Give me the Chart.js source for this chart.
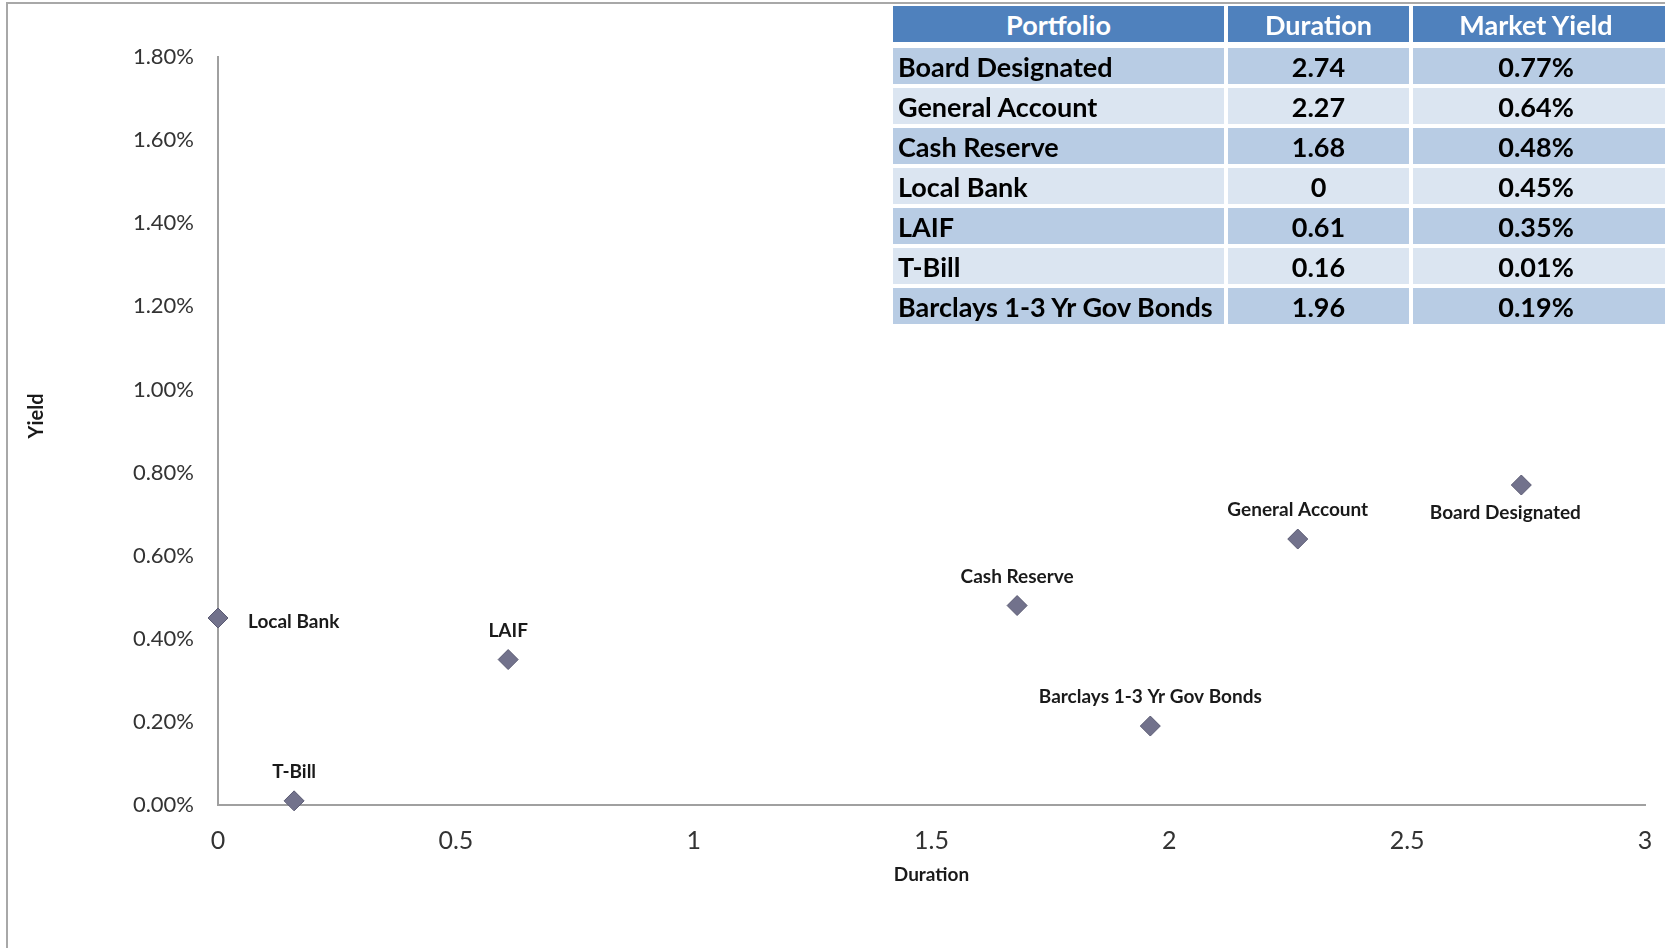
<!DOCTYPE html>
<html>
<head>
<meta charset="utf-8">
<script src="https://cdn.jsdelivr.net/npm/chart.js@4.4.1/dist/chart.umd.min.js"></script>
<style>
  html, body { margin: 0; padding: 0; background: #fff; }
  #wrap { position: relative; width: 1665px; height: 948px; overflow: hidden; }
  #frame { position: absolute; left: 6px; top: 2px; right: -10px; bottom: -10px;
           border-left: 2px solid #a8a8a8; border-top: 2px solid #a8a8a8; }
  #theChart { position: absolute; left: 0; top: 0; }
  #tbl { position: absolute; left: 893px; top: 6px; display: grid;
         grid-template-columns: 331px 181px 256px; column-gap: 4px;
         grid-template-rows: 38px repeat(7, 36px); row-gap: 4px;
         font-family: Lato, "Liberation Sans", sans-serif; font-weight: bold; font-size: 27px; }
  #tbl div { display: flex; align-items: center; justify-content: center; white-space: nowrap; overflow: hidden; }
  #tbl .hd { background: #4f81bd; color: #fff; height: 36px; align-self: start; }
  #tbl .dark { background: #b8cce4; color: #000; }
  #tbl .light { background: #dbe5f1; color: #000; }
  #tbl .first { justify-content: flex-start; padding-left: 5px; }
  #tbl .hd.first { justify-content: center; padding-left: 0; }
  #tbl .last { padding-right: 10px; }
</style>
</head>
<body>
<div id="wrap">
  <div id="frame"></div>
  <canvas id="theChart" width="1665" height="948"></canvas>
  <div id="tbl"></div>
</div>
<script>
// portfolio data (duration in years, yield in percent)
const portfolios = ["Board Designated", "General Account", "Cash Reserve", "Local Bank", "LAIF", "T-Bill", "Barclays 1-3 Yr Gov Bonds"];
const durations = [2.74, 2.27, 1.68, 0, 0.61, 0.16, 1.96];
const yields = [0.77, 0.64, 0.48, 0.45, 0.35, 0.01, 0.19];
const tableHeaders = ["Portfolio", "Duration", "Market Yield"];

// where each point label sits relative to its marker
const labelPlacement = {
  "Local Bank": "right",
  "Board Designated": "below",
};

// build the table from the same arrays
const tbl = document.getElementById("tbl");
function cell(text, cls) {
  const d = document.createElement("div");
  d.className = cls;
  d.textContent = text;
  tbl.appendChild(d);
}
tableHeaders.forEach((h, i) => cell(h, "hd" + (i === 0 ? " first" : "") + (i === 2 ? " last" : "")));
portfolios.forEach((p, i) => {
  const shade = i % 2 === 0 ? "dark" : "light";
  cell(p, shade + " first");
  cell(String(durations[i]), shade);
  cell(yields[i].toFixed(2) + "%", shade + " last");
});

const FONT = "Lato, 'Open Sans', sans-serif";

const pointLabels = {
  id: "pointLabels",
  afterDatasetsDraw(chart) {
    const ctx = chart.ctx;
    const meta = chart.getDatasetMeta(0);
    ctx.save();
    ctx.font = "bold 19px " + FONT;
    ctx.fillStyle = "#1a1a1a";
    ctx.textBaseline = "middle";
    meta.data.forEach((pt, i) => {
      const name = portfolios[i];
      const where = labelPlacement[name] || "above";
      if (where === "right") {
        ctx.textAlign = "left";
        ctx.fillText(name, pt.x + 30, pt.y + 4);
      } else if (where === "below") {
        ctx.textAlign = "center";
        ctx.fillText(name, pt.x - 16, pt.y + 28);
      } else {
        ctx.textAlign = "center";
        ctx.fillText(name, pt.x, pt.y - 29);
      }
    });
    // y axis title, sits a little above the middle of the axis
    const area = chart.chartArea;
    ctx.translate(37, (area.top + area.bottom) / 2 - 15);
    ctx.rotate(-Math.PI / 2);
    ctx.textAlign = "center";
    ctx.font = "bold 20px " + FONT;
    ctx.fillText("Yield", 0, 0);
    ctx.restore();
  },
};

const config = {
  type: "scatter",
  data: {
    datasets: [
      {
        label: "Portfolios",
        data: durations.map((d, i) => ({ x: d, y: yields[i] })),
        pointStyle: "rectRot",
        pointRadius: 10,
        backgroundColor: "#72728c",
        borderColor: "#5a5a72",
        borderWidth: 1,
        clip: false,
      },
    ],
  },
  options: {
    responsive: false,
    animation: false,
    layout: { padding: { left: 0, right: 20, top: 57, bottom: 0 } },
    plugins: {
      legend: { display: false },
      tooltip: { enabled: false },
    },
    scales: {
      x: {
        type: "linear",
        min: 0,
        max: 3,
        grid: { display: false, drawTicks: false },
        border: { display: true, color: "#a0a0a0", width: 2 },
        ticks: {
          stepSize: 0.5,
          padding: 21,
          color: "#333",
          font: { family: FONT, size: 25 },
          callback: (v) => String(v),
        },
        title: {
          display: true,
          text: "Duration",
          color: "#1a1a1a",
          font: { family: FONT, size: 19, weight: "bold" },
          padding: { top: 0, bottom: 62 },
        },
        afterFit: (scale) => {
          scale.height = 143;
          scale.paddingRight = 0;
          scale.paddingLeft = 0;
        },
      },
      y: {
        type: "linear",
        min: 0,
        max: 1.8,
        grid: { display: false, drawTicks: false },
        border: { display: true, color: "#a0a0a0", width: 2 },
        ticks: {
          stepSize: 0.2,
          padding: 24,
          color: "#333",
          font: { family: FONT, size: 22 },
          callback: (v) => v.toFixed(2) + "%",
        },
        title: { display: false },
        afterFit: (scale) => { scale.width = 218; },
      },
    },
  },
  plugins: [pointLabels],
};

const theChart = new Chart(document.getElementById("theChart"), config);
</script>
</body>
</html>
